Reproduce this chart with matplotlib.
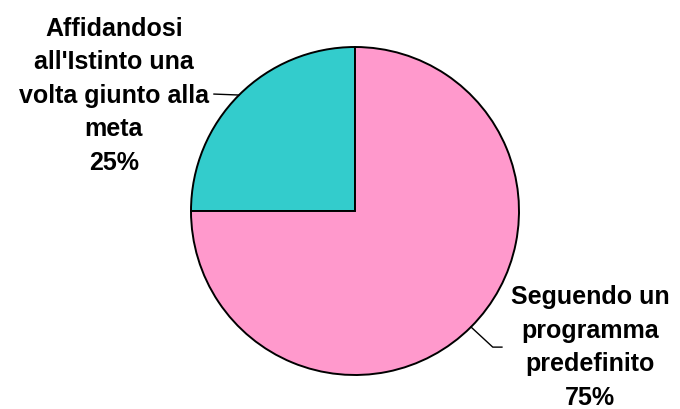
import matplotlib
matplotlib.use("Agg")
import matplotlib.pyplot as plt
import numpy as np

labels = ["Affidandosi\nall'Istinto una\nvolta giunto alla\nmeta", "Seguendo un\nprogramma\npredefinito"]
values = [25, 75]
colors = ["#33CCCC", "#FF99CC"]

W, H = 680, 410
cx, cy, R = 355, 212, 164

fig = plt.figure(figsize=(W / 100, H / 100), dpi=100)
ax = fig.add_axes([0, 0, 1, 1])
wedges, _ = ax.pie(values, colors=colors, startangle=90, counterclock=True,
                   radius=1.0, center=(0, 0),
                   wedgeprops=dict(edgecolor="black", linewidth=1.4))
ax.set_xlim(-cx / R, (W - cx) / R)
ax.set_ylim(-(H - cy) / R, cy / R)
ax.set_aspect("auto")
ax.axis("off")

font = dict(family=["Liberation Sans", "DejaVu Sans"], fontweight="bold", fontsize=18)

# teal label
w = wedges[0]
mid = np.deg2rad((w.theta1 + w.theta2) / 2)
px, py = np.cos(mid), np.sin(mid)
ax.plot([px, -0.86], [py, 0.713], color="black", lw=1.0)
ax.text(-1.47, 0.71, f"{labels[0]}\n{values[0]}%", ha="center", va="center",
        linespacing=1.5, **font)

# pink label
w = wedges[1]
mid = np.deg2rad((w.theta1 + w.theta2) / 2)
px, py = np.cos(mid), np.sin(mid)
ax.plot([px, 0.84, 0.896], [py, -0.83, -0.83], color="black", lw=1.0)
ax.text(1.433, -0.825, f"{labels[1]}\n{values[1]}%", ha="center", va="center",
        linespacing=1.5, **font)

fig.savefig("out.png", dpi=100)
